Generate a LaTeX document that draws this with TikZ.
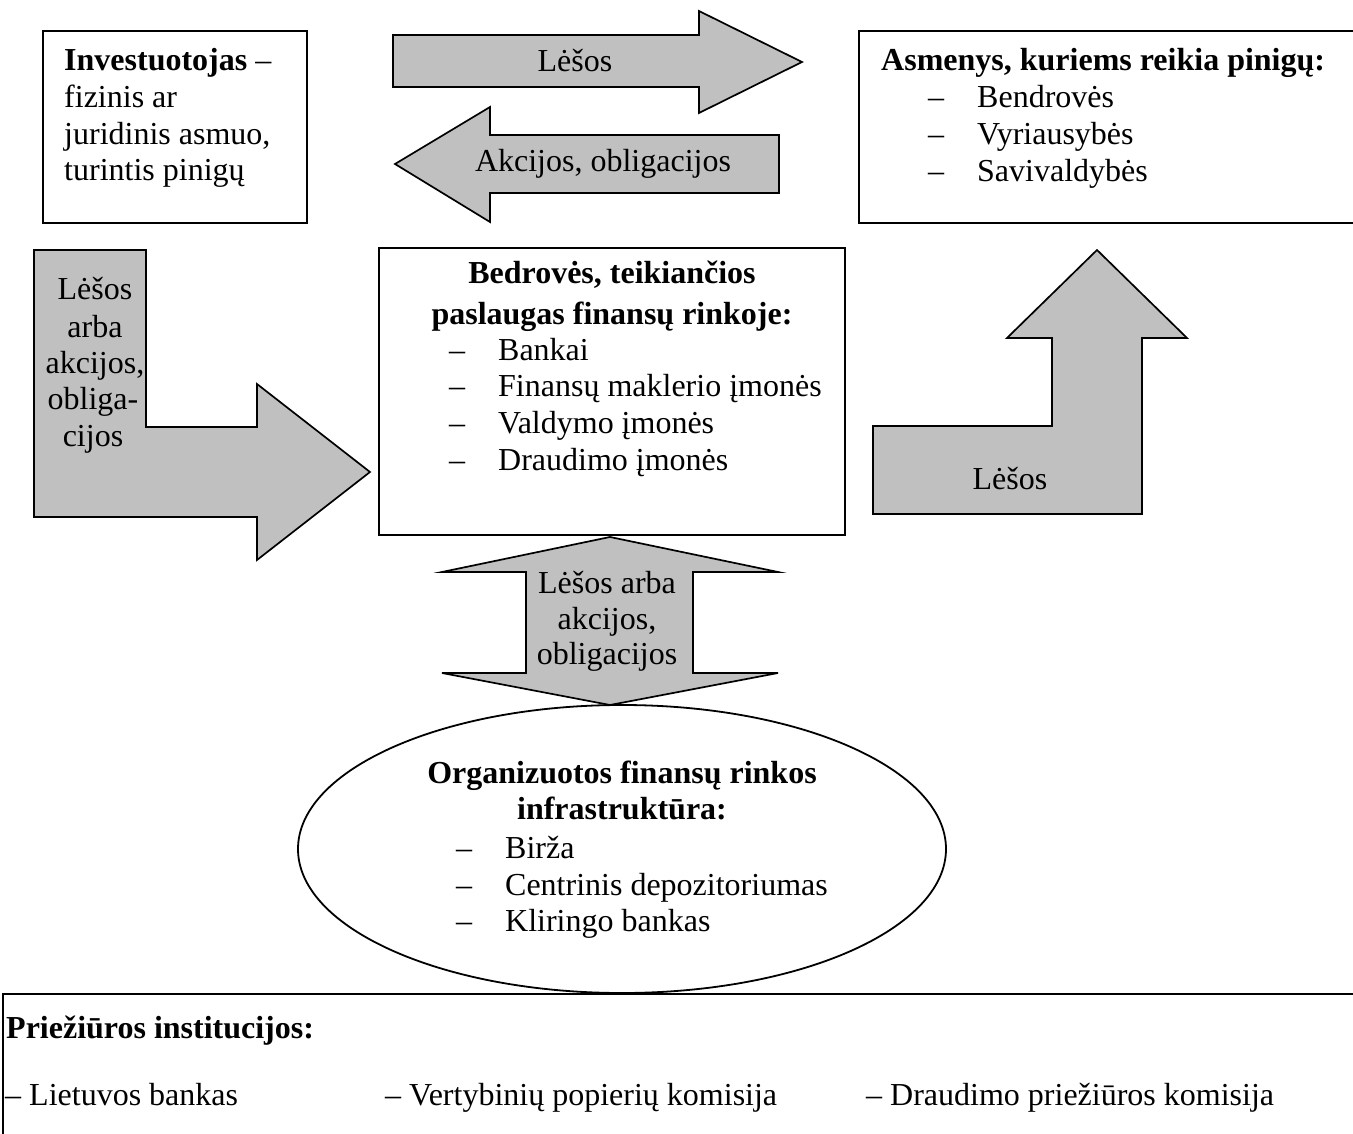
\documentclass[tikz,border=0pt]{standalone}
\usepackage{fontspec}
\setmainfont{Liberation Serif}
\usetikzlibrary{shapes.geometric}
\newcommand\myfs{\fontsize{32}{37}\selectfont}
\definecolor{arrowgray}{RGB}{192,192,192}
\tikzset{
  frame/.style={draw, line width=2pt, fill=white, inner sep=0pt},
  bigarrow/.style={draw, line width=1.7pt, fill=arrowgray, line join=miter},
  txt/.style={inner sep=0pt, text height=23pt, text depth=8pt, font=\myfs},
  ltxt/.style={txt, anchor=west},
}
\newcommand\itm[1]{\makebox[49pt][l]{–}#1}
\begin{document}
\begin{tikzpicture}[x=1pt, y=-1pt]
\useasboundingbox (0,0) rectangle (1353,1134);
\fill[white] (0,0) rectangle (1353,1134);

% boxes
\node[frame, minimum width=264pt, minimum height=192pt] (inv) at (175,127) {};
\node[frame, minimum width=530pt, minimum height=192pt] (asm) at (1124,127) {};
\node[frame, minimum width=466pt, minimum height=287pt] (mid) at (612,391.5) {};
\node[frame, minimum width=1380pt, minimum height=170pt] (sup) at (693,1079) {};

% arrows
\draw[bigarrow] (393,35) -- (699,35) -- (699,11) -- (802,62) -- (699,113) -- (699,87) -- (393,87) -- cycle;
\draw[bigarrow] (395,164) -- (490,107) -- (490,135) -- (779,135) -- (779,193) -- (490,193) -- (490,222) -- cycle;
\draw[bigarrow] (34,250) -- (146,250) -- (146,427) -- (257,427) -- (257,384) -- (370,472) -- (257,560) -- (257,517) -- (34,517) -- cycle;
\draw[bigarrow] (873,426) -- (1052,426) -- (1052,338) -- (1007,338) -- (1097,250) -- (1187,338) -- (1142,338) -- (1142,514) -- (873,514) -- cycle;
\draw[bigarrow] (610,537) -- (778,572) -- (693,572) -- (693,673) -- (778,673) -- (610,705) -- (442,673) -- (526,673) -- (526,572) -- (442,572) -- cycle;

% ellipse
\node[draw, ellipse, line width=1.8pt, fill=white, inner sep=0pt, minimum width=648pt, minimum height=288pt] (infra) at (622,849) {};

% investor text
\node[ltxt] (inv1) at (64,63) {\textbf{Investuotojas} –};
\node[ltxt] (inv2) at (64,100) {fizinis ar};
\node[ltxt] (inv3) at (64,137) {juridinis asmuo,};
\node[ltxt] (inv4) at (64,173) {turintis pinigų};

% asmenys text
\node[ltxt] (asm0) at (881,63) {\textbf{Asmenys, kuriems reikia pinigų:}};
\node[ltxt] (asm1) at (928,100) {\itm{Bendrovės}};
\node[ltxt] (asm2) at (928,137) {\itm{Vyriausybės}};
\node[ltxt] (asm3) at (928,174) {\itm{Savivaldybės}};

% middle text
\node[txt] (mid0) at (612,276) {\textbf{Bedrovės, teikiančios}};
\node[txt] (mid00) at (612,317) {\textbf{paslaugas finansų rinkoje:}};
\node[ltxt] (mid1) at (449,353) {\itm{Bankai}};
\node[ltxt] (mid2) at (449,389) {\itm{Finansų maklerio įmonės}};
\node[ltxt] (mid3) at (449,426) {\itm{Valdymo įmonės}};
\node[ltxt] (mid4) at (449,463) {\itm{Draudimo įmonės}};

% arrow labels
\node[txt] (a1) at (575,64) {Lėšos};
\node[txt] (a2) at (603,164) {Akcijos, obligacijos};
\node[txt] (l1) at (95,292) {Lėšos};
\node[txt] (l2) at (95,330) {arba};
\node[txt] (l3) at (95,366) {akcijos,};
\node[txt] (l4) at (93,402) {obliga-};
\node[txt] (l5) at (93,439) {cijos};
\node[txt] (r1) at (1010,482) {Lėšos};
\node[txt] (u1) at (607,586) {Lėšos arba};
\node[txt] (u2) at (607,622) {akcijos,};
\node[txt] (u3) at (607,657) {obligacijos};

% ellipse text
\node[txt] (e0) at (622,776) {\textbf{Organizuotos finansų rinkos}};
\node[txt] (e00) at (622,812) {\textbf{infrastruktūra:}};
\node[ltxt] (e1) at (456,851) {\itm{Birža}};
\node[ltxt] (e2) at (456,888) {\itm{Centrinis depozitoriumas}};
\node[ltxt] (e3) at (456,924) {\itm{Kliringo bankas}};

% supervision text
\node[ltxt] (s0) at (6,1031) {\textbf{Priežiūros institucijos:}};
\node[ltxt] (s1) at (5,1098) {– Lietuvos bankas};
\node[ltxt] (s2) at (385,1098) {– Vertybinių popierių komisija};
\node[ltxt] (s3) at (866,1098) {– Draudimo priežiūros komisija};
\end{tikzpicture}
\end{document}
